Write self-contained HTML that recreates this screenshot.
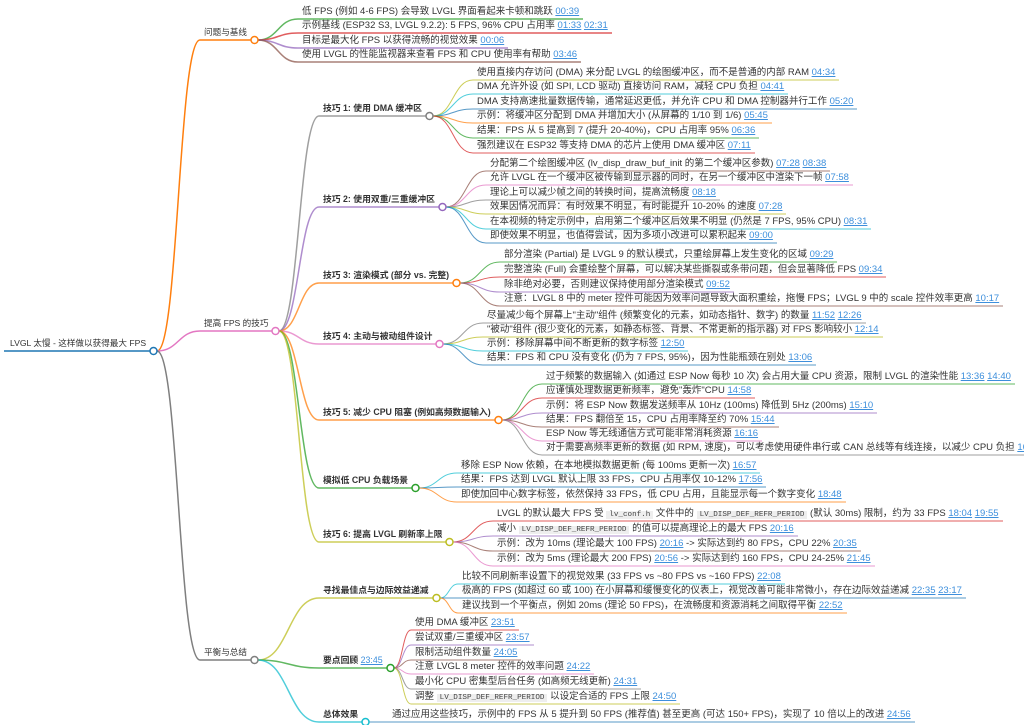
<!DOCTYPE html>
<html><head><meta charset="utf-8">
<style>
html,body{margin:0;padding:0;background:#fff;width:1024px;height:725px;overflow:hidden;position:relative}
#s{position:absolute;left:0;top:0}
.n{position:absolute;white-space:nowrap;font:9.5px "Liberation Sans","Noto Sans CJK SC",sans-serif;color:#333;height:14px;line-height:13px;padding:0 4px}
.m{font-size:8.6px}
.b{font-weight:bold;font-size:8.8px}
.l{color:#3d8fdc;text-decoration:underline}
.c{font-family:"Liberation Mono",monospace;font-size:7.6px;background:#eee;padding:0 3px;color:#444}
</style></head><body>
<svg id="s" width="1024" height="725"></svg>
<script>
var B='#1f77b4',O='#ff7f0e',G='#2ca02c',R='#d62728',P='#9467bd',Br='#8c564b',Pk='#e377c2',Gy='#7f7f7f',Ol='#bcbd22',C='#17becf';
function L(t){return '<span class="l">'+t+'</span>'}
function K(t){return '<span class="c">'+t+'</span>'}
function lv(t,x,y,c,kids,b){return {t:t,x:x,y:y,c:c,k:kids||[],b:b}}
function leaves(x,ys,cs,ts){return ts.map(function(t,i){return lv(t,x,ys[i],cs[i])})}
var root=lv('LVGL 太慢 - 这样做以获得最大 FPS',10,351,B,[
 lv('问题与基线',204,40,O,leaves(302,[19,33,48,62],[G,R,P,Br],[
  '低 FPS (例如 4-6 FPS) 会导致 LVGL 界面看起来卡顿和跳跃 '+L('00:39'),
  '示例基线 (ESP32 S3, LVGL 9.2.2): 5 FPS, 96% CPU 占用率 '+L('01:33')+' '+L('02:31'),
  '目标是最大化 FPS 以获得流畅的视觉效果 '+L('00:06'),
  '使用 LVGL 的性能监视器来查看 FPS 和 CPU 使用率有帮助 '+L('03:46')]),2),
 lv('提高 FPS 的技巧',204,331,Pk,[
  lv('技巧 1: 使用 DMA 缓冲区',323,116,Gy,leaves(477,[80,94,109,123,138,153],[Ol,C,B,O,G,R],[
   '使用直接内存访问 (DMA) 来分配 LVGL 的绘图缓冲区，而不是普通的内部 RAM '+L('04:34'),
   'DMA 允许外设 (如 SPI, LCD 驱动) 直接访问 RAM，减轻 CPU 负担 '+L('04:41'),
   'DMA 支持高速批量数据传输，通常延迟更低，并允许 CPU 和 DMA 控制器并行工作 '+L('05:20'),
   '示例：将缓冲区分配到 DMA 并增加大小 (从屏幕的 1/10 到 1/6) '+L('05:45'),
   '结果：FPS 从 5 提高到 7 (提升 20-40%)，CPU 占用率 95% '+L('06:36'),
   '强烈建议在 ESP32 等支持 DMA 的芯片上使用 DMA 缓冲区 '+L('07:11')]),1),
  lv('技巧 2: 使用双重/三重缓冲区',323,207,P,leaves(490,[171,185,200,214,229,243],[Br,Pk,Gy,Ol,C,B],[
   '分配第二个绘图缓冲区 (lv_disp_draw_buf_init 的第二个缓冲区参数) '+L('07:28')+' '+L('08:38'),
   '允许 LVGL 在一个缓冲区被传输到显示器的同时，在另一个缓冲区中渲染下一帧 '+L('07:58'),
   '理论上可以减少帧之间的转换时间，提高流畅度 '+L('08:18'),
   '效果因情况而异：有时效果不明显，有时能提升 10-20% 的速度 '+L('07:28'),
   '在本视频的特定示例中，启用第二个缓冲区后效果不明显 (仍然是 7 FPS, 95% CPU) '+L('08:31'),
   '即使效果不明显，也值得尝试，因为多项小改进可以累积起来 '+L('09:00')]),1),
  lv('技巧 3: 渲染模式 (部分 vs. 完整)',323,283,O,leaves(504,[262,277,292,306],[G,R,P,Br],[
   '部分渲染 (Partial) 是 LVGL 9 的默认模式，只重绘屏幕上发生变化的区域 '+L('09:29'),
   '完整渲染 (Full) 会重绘整个屏幕，可以解决某些撕裂或条带问题，但会显著降低 FPS '+L('09:34'),
   '除非绝对必要，否则建议保持使用部分渲染模式 '+L('09:52'),
   '注意：LVGL 8 中的 meter 控件可能因为效率问题导致大面积重绘，拖慢 FPS；LVGL 9 中的 scale 控件效率更高 '+L('10:17')]),1),
  lv('技巧 4: 主动与被动组件设计',323,344,Pk,leaves(487,[323,337,351,365],[Gy,Ol,C,B],[
   '尽量减少每个屏幕上"主动"组件 (频繁变化的元素，如动态指针、数字) 的数量 '+L('11:52')+' '+L('12:26'),
   '"被动"组件 (很少变化的元素，如静态标签、背景、不常更新的指示器) 对 FPS 影响较小 '+L('12:14'),
   '示例：移除屏幕中间不断更新的数字标签 '+L('12:50'),
   '结果：FPS 和 CPU 没有变化 (仍为 7 FPS, 95%)，因为性能瓶颈在别处 '+L('13:06')]),1),
  lv('技巧 5: 减少 CPU 阻塞 (例如高频数据输入)',323,420,O,leaves(546,[384,398,413,427,441,455],[G,R,P,Br,Pk,Gy],[
   '过于频繁的数据输入 (如通过 ESP Now 每秒 10 次) 会占用大量 CPU 资源，限制 LVGL 的渲染性能 '+L('13:36')+' '+L('14:40'),
   '应谨慎处理数据更新频率，避免"轰炸"CPU '+L('14:58'),
   '示例：将 ESP Now 数据发送频率从 10Hz (100ms) 降低到 5Hz (200ms) '+L('15:10'),
   '结果：FPS 翻倍至 15，CPU 占用率降至约 70% '+L('15:44'),
   'ESP Now 等无线通信方式可能非常消耗资源 '+L('16:16'),
   '对于需要高频率更新的数据 (如 RPM, 速度)，可以考虑使用硬件串行或 CAN 总线等有线连接，以减少 CPU 负担 '+L('16:32')]),1),
  lv('模拟低 CPU 负载场景',323,488,G,leaves(461,[473,487,502],[C,B,O],[
   '移除 ESP Now 依赖，在本地模拟数据更新 (每 100ms 更新一次) '+L('16:57'),
   '结果：FPS 达到 LVGL 默认上限 33 FPS，CPU 占用率仅 10-12% '+L('17:56'),
   '即使加回中心数字标签，依然保持 33 FPS，低 CPU 占用，且能显示每一个数字变化 '+L('18:48')]),1),
  lv('技巧 6: 提高 LVGL 刷新率上限',323,542,Ol,leaves(497,[521,536,551,566],[R,P,Br,Pk],[
   'LVGL 的默认最大 FPS 受 '+K('lv_conf.h')+' 文件中的 '+K('LV_DISP_DEF_REFR_PERIOD')+' (默认 30ms) 限制，约为 33 FPS '+L('18:04')+' '+L('19:55'),
   '减小 '+K('LV_DISP_DEF_REFR_PERIOD')+' 的值可以提高理论上的最大 FPS '+L('20:16'),
   '示例：改为 10ms (理论最大 100 FPS) '+L('20:16')+' -> 实际达到约 80 FPS，CPU 22% '+L('20:35'),
   '示例：改为 5ms (理论最大 200 FPS) '+L('20:56')+' -> 实际达到约 160 FPS，CPU 24-25% '+L('21:45')]),1)
 ],2),
 lv('平衡与总结',204,660,Gy,[
  lv('寻找最佳点与边际效益递减',323,598,Ol,leaves(462,[584,598,613],[C,B,O],[
   '比较不同刷新率设置下的视觉效果 (33 FPS vs ~80 FPS vs ~160 FPS) '+L('22:08'),
   '极高的 FPS (如超过 60 或 100) 在小屏幕和缓慢变化的仪表上，视觉改善可能非常微小，存在边际效益递减 '+L('22:35')+' '+L('23:17'),
   '建议找到一个平衡点，例如 20ms (理论 50 FPS)，在流畅度和资源消耗之间取得平衡 '+L('22:52')]),1),
  lv('要点回顾 <span style="font-weight:normal">'+L('23:45')+'</span>',323,668,G,leaves(415,[630,645,660,674,689,704],[R,P,Br,Pk,Gy,Ol],[
   '使用 DMA 缓冲区 '+L('23:51'),
   '尝试双重/三重缓冲区 '+L('23:57'),
   '限制活动组件数量 '+L('24:05'),
   '注意 LVGL 8 meter 控件的效率问题 '+L('24:22'),
   '最小化 CPU 密集型后台任务 (如高频无线更新) '+L('24:31'),
   '调整 '+K('LV_DISP_DEF_REFR_PERIOD')+' 以设定合适的 FPS 上限 '+L('24:50')]),1),
  lv('总体效果',323,722,C,leaves(392,[722],[B],[
   '通过应用这些技巧，示例中的 FPS 从 5 提升到 50 FPS (推荐值) 甚至更高 (可达 150+ FPS)，实现了 10 倍以上的改进 '+L('24:56')]),1)
 ],2)
],2);
var svg=document.getElementById('s'),NS='http://www.w3.org/2000/svg',circles=[];
function el(n,a){var e=document.createElementNS(NS,n);for(var k in a)e.setAttribute(k,a[k]);svg.appendChild(e);return e}
function draw(n,px,py,depth){
 var d=document.createElement('div');d.className='n'+(n.b==1?' b':n.b==2?' m':'');d.innerHTML=n.t;
 d.style.left=(n.x-4)+'px';d.style.top=(n.y-14)+'px';document.body.appendChild(d);
 var w=d.offsetWidth, x0=n.x-4, x1=x0+w, sw=depth<=2?1.5:1;
 if(depth==0)x0=4;
 var op=depth<=1?1:0.75;
 if(px!=null){var m=(px+x0)/2;el('path',{d:'M'+px+','+py+' C'+m+','+py+' '+m+','+n.y+' '+x0+','+n.y,fill:'none',stroke:n.c,'stroke-width':sw,'stroke-opacity':op})}
 el('line',{x1:x0,y1:n.y,x2:x1,y2:n.y,stroke:n.c,'stroke-width':sw,'stroke-opacity':op});
 if(n.k.length){var cx=x1+3.5;circles.push([cx,n.y,n.c]);n.k.forEach(function(k){draw(k,cx+3.5,n.y,depth+1)})}
}
draw(root,null,null,0);
circles.forEach(function(c){el('circle',{cx:c[0],cy:c[1],r:3.5,fill:'#fff',stroke:c[2],'stroke-width':1.5})});
</script>
</body></html>
